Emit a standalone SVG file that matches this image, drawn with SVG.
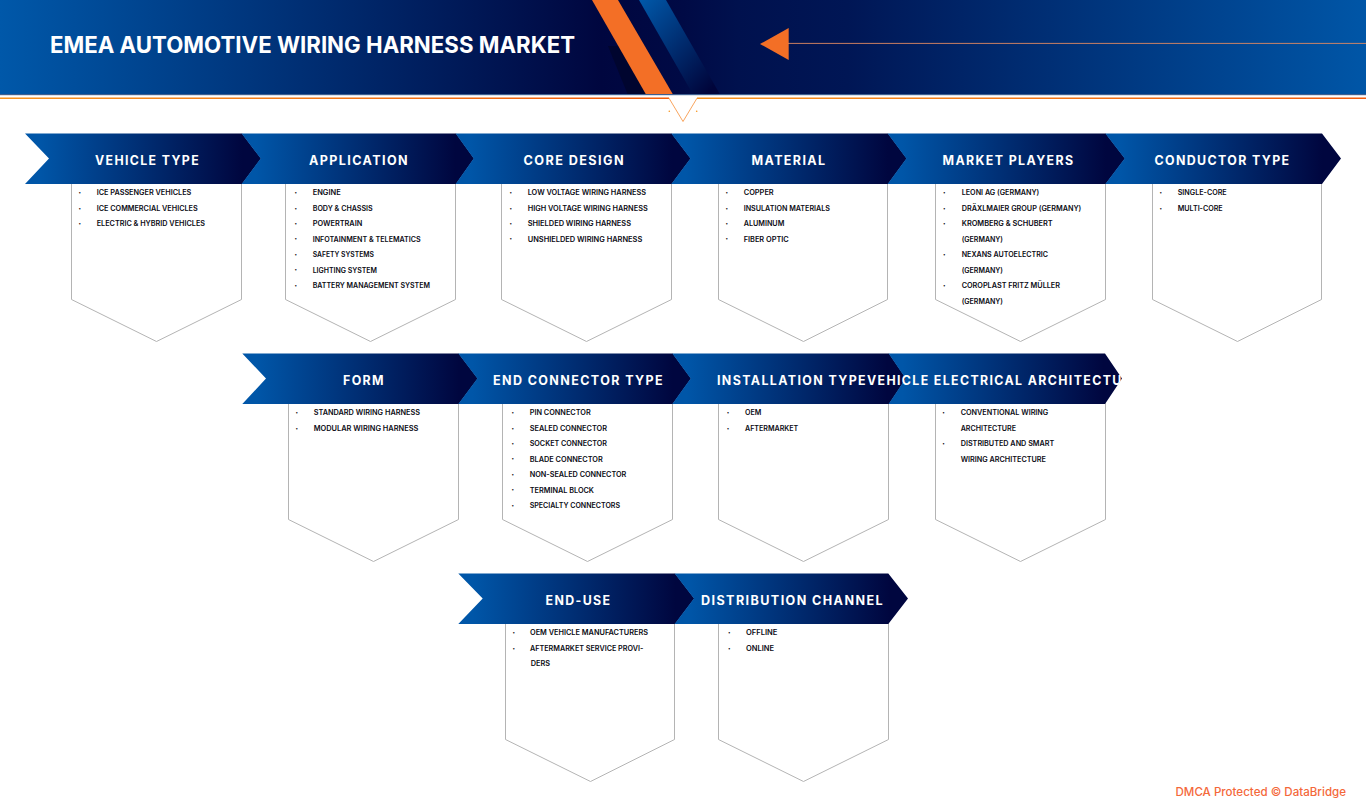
<svg xmlns="http://www.w3.org/2000/svg" width="1366" height="808" viewBox="0 0 1366 808">
<style>
text{font-family:"Inter","Liberation Sans",sans-serif}
.h{font-size:12.6px;font-weight:700;fill:#fff;letter-spacing:1.4px}
.t{font-size:7.3px;font-weight:600;fill:#0b0b14}
.b{font-size:4.5px;fill:#0b0b14}
.box{fill:#fff;stroke:#b4b4b4;stroke-width:1}
.c{fill:url(#cg)}
</style>
<defs>
<linearGradient id="cg" x1="0" y1="0" x2="1" y2="0"><stop offset="0.06" stop-color="#0056a8"/><stop offset="0.92" stop-color="#00063f"/></linearGradient>
<linearGradient id="hg" gradientUnits="userSpaceOnUse" x1="0" y1="0" x2="1366" y2="0"><stop offset="0" stop-color="#0058a9"/><stop offset="0.44" stop-color="#00063f"/><stop offset="0.5" stop-color="#000a45"/><stop offset="0.54" stop-color="#00114e"/><stop offset="0.62" stop-color="#001655"/><stop offset="1" stop-color="#0056a7"/></linearGradient>
<linearGradient id="sg" gradientUnits="userSpaceOnUse" x1="640" y1="0" x2="722" y2="78"><stop offset="0" stop-color="#0058a9"/><stop offset="1" stop-color="#00043a"/></linearGradient>
<linearGradient id="ol" gradientUnits="userSpaceOnUse" x1="0" y1="0" x2="669" y2="0"><stop offset="0" stop-color="#f7931e"/><stop offset="1" stop-color="#f15a0a"/></linearGradient>
<linearGradient id="or" gradientUnits="userSpaceOnUse" x1="697" y1="0" x2="1366" y2="0"><stop offset="0" stop-color="#f7931e"/><stop offset="1" stop-color="#f15a0a"/></linearGradient>
<clipPath id="vclip"><polygon points="850,353 1105,353 1122.5,378.5 1105,404 850,404"/></clipPath>
</defs>
<g id="header">
<rect x="0" y="0" width="1366" height="95" fill="url(#hg)"/>
<polygon points="608,46 640,46 672,95 628,95" fill="#00052f"/>
<polygon points="592,0 618,0 673,94.5 646,94.5" fill="#f36f26"/>
<polygon points="639,0 666,0 720,94.5 693,94.5" fill="url(#sg)"/>
<rect x="0" y="94" width="1366" height="1.2" fill="#3f5f8f"/>
<path d="M0 98.2H669" stroke="url(#ol)" stroke-width="1.4"/>
<path d="M697 98.2H1366" stroke="url(#or)" stroke-width="1.4"/>
<path d="M669 98.2L683 121.5L697 98.2" fill="none" stroke="#f79a4c" stroke-width="0.9"/>
<circle cx="669.3" cy="111.3" r="0.8" fill="#f7941d"/><circle cx="696.7" cy="111.3" r="0.8" fill="#f7941d"/>
<polygon points="760,44 788.7,28 788.7,60" fill="#f36f26"/>
<path d="M788 43.4H1366" stroke="#e08a62" stroke-width="0.9"/>
<text x="50" y="52.5" font-size="23" font-weight="700" fill="#fff" textLength="525" lengthAdjust="spacingAndGlyphs">EMEA AUTOMOTIVE WIRING HARNESS MARKET</text>
</g>

<g id="vehicle-type">
<polygon class="box" points="71.5,180 241.5,180 241.5,299.5 156.5,341.5 71.5,299.5"/>
<polygon class="c" points="25,133.4 49,158.5 25,184 242,184 261,158.5 242,133.4"/>
<text class="h" x="95" y="165" textLength="105" lengthAdjust="spacingAndGlyphs">VEHICLE TYPE</text>
<text class="b" x="78.5" y="194">•</text><text class="t" x="96.7" y="195.2" textLength="94.6" lengthAdjust="spacingAndGlyphs">ICE PASSENGER VEHICLES</text>
<text class="b" x="78.5" y="210">•</text><text class="t" x="96.7" y="211.2" textLength="101" lengthAdjust="spacingAndGlyphs">ICE COMMERCIAL VEHICLES</text>
<text class="b" x="78.5" y="225.2">•</text><text class="t" x="96.7" y="226.4" textLength="108.3" lengthAdjust="spacingAndGlyphs">ELECTRIC &amp; HYBRID VEHICLES</text>
</g>
<g id="application">
<polygon class="box" points="285.5,180 455.5,180 455.5,299.5 370.5,341.5 285.5,299.5"/>
<polygon class="c" points="241.6,133.4 260.6,158.5 241.6,184 456,184 474,158.5 456,133.4"/>
<text class="h" x="309" y="165" textLength="100" lengthAdjust="spacingAndGlyphs">APPLICATION</text>
<text class="b" x="294.5" y="194">•</text><text class="t" x="312.7" y="195.2" textLength="28" lengthAdjust="spacingAndGlyphs">ENGINE</text>
<text class="b" x="294.5" y="210">•</text><text class="t" x="312.7" y="211.2" textLength="60" lengthAdjust="spacingAndGlyphs">BODY &amp; CHASSIS</text>
<text class="b" x="294.5" y="225.2">•</text><text class="t" x="312.7" y="226.4" textLength="49.6" lengthAdjust="spacingAndGlyphs">POWERTRAIN</text>
<text class="b" x="294.5" y="240.4">•</text><text class="t" x="312.7" y="241.6" textLength="108" lengthAdjust="spacingAndGlyphs">INFOTAINMENT &amp; TELEMATICS</text>
<text class="b" x="294.5" y="256.2">•</text><text class="t" x="312.7" y="257.4" textLength="61.3" lengthAdjust="spacingAndGlyphs">SAFETY SYSTEMS</text>
<text class="b" x="294.5" y="271.4">•</text><text class="t" x="312.7" y="272.6" textLength="64.3" lengthAdjust="spacingAndGlyphs">LIGHTING SYSTEM</text>
<text class="b" x="294.5" y="287.2">•</text><text class="t" x="312.7" y="288.4" textLength="117.3" lengthAdjust="spacingAndGlyphs">BATTERY MANAGEMENT SYSTEM</text>
</g>
<g id="core-design">
<polygon class="box" points="501.5,180 671.5,180 671.5,299.5 586.5,341.5 501.5,299.5"/>
<polygon class="c" points="455.6,133.4 473.6,158.5 455.6,184 671.7,184 690.7,158.5 671.7,133.4"/>
<text class="h" x="523.5" y="165" textLength="101.5" lengthAdjust="spacingAndGlyphs">CORE DESIGN</text>
<text class="b" x="509.5" y="194">•</text><text class="t" x="527.7" y="195.2" textLength="118.3" lengthAdjust="spacingAndGlyphs">LOW VOLTAGE WIRING HARNESS</text>
<text class="b" x="509.5" y="210">•</text><text class="t" x="527.7" y="211.2" textLength="120" lengthAdjust="spacingAndGlyphs">HIGH VOLTAGE WIRING HARNESS</text>
<text class="b" x="509.5" y="225.2">•</text><text class="t" x="527.7" y="226.4" textLength="103.3" lengthAdjust="spacingAndGlyphs">SHIELDED WIRING HARNESS</text>
<text class="b" x="509.5" y="240.4">•</text><text class="t" x="527.7" y="241.6" textLength="114.6" lengthAdjust="spacingAndGlyphs">UNSHIELDED WIRING HARNESS</text>
</g>
<g id="material">
<polygon class="box" points="718.5,180 887.5,180 887.5,299.5 803.5,341.5 718.5,299.5"/>
<polygon class="c" points="671.3,133.4 690.3,158.5 671.3,184 888,184 906.7,158.5 888,133.4"/>
<text class="h" x="751.5" y="165" textLength="75" lengthAdjust="spacingAndGlyphs">MATERIAL</text>
<text class="b" x="725.5" y="194">•</text><text class="t" x="743.7" y="195.2" textLength="30" lengthAdjust="spacingAndGlyphs">COPPER</text>
<text class="b" x="725.5" y="210">•</text><text class="t" x="743.7" y="211.2" textLength="86.3" lengthAdjust="spacingAndGlyphs">INSULATION MATERIALS</text>
<text class="b" x="725.5" y="225.2">•</text><text class="t" x="743.7" y="226.4" textLength="40.6" lengthAdjust="spacingAndGlyphs">ALUMINUM</text>
<text class="b" x="725.5" y="240.4">•</text><text class="t" x="743.7" y="241.6" textLength="45" lengthAdjust="spacingAndGlyphs">FIBER OPTIC</text>
</g>
<g id="market-players">
<polygon class="box" points="935.5,180 1105.5,180 1105.5,299.5 1020.5,341.5 935.5,299.5"/>
<polygon class="c" points="887.6,133.4 906.3,158.5 887.6,184 1105.7,184 1125,158.5 1105.7,133.4"/>
<text class="h" x="942.5" y="165" textLength="132" lengthAdjust="spacingAndGlyphs">MARKET PLAYERS</text>
<text class="b" x="943" y="194">•</text><text class="t" x="961.7" y="195.2" textLength="77.6" lengthAdjust="spacingAndGlyphs">LEONI AG (GERMANY)</text>
<text class="b" x="943" y="210">•</text><text class="t" x="961.7" y="211.2" textLength="119.6" lengthAdjust="spacingAndGlyphs">DRÄXLMAIER GROUP (GERMANY)</text>
<text class="b" x="943" y="225.2">•</text><text class="t" x="961.7" y="226.4" textLength="91" lengthAdjust="spacingAndGlyphs">KROMBERG &amp; SCHUBERT</text>
<text class="t" x="961.7" y="241.6" textLength="41.3" lengthAdjust="spacingAndGlyphs">(GERMANY)</text>
<text class="b" x="943" y="256.2">•</text><text class="t" x="961.7" y="257.4" textLength="86.3" lengthAdjust="spacingAndGlyphs">NEXANS AUTOELECTRIC</text>
<text class="t" x="961.7" y="272.6" textLength="41.3" lengthAdjust="spacingAndGlyphs">(GERMANY)</text>
<text class="b" x="943" y="287.2">•</text><text class="t" x="961.7" y="288.4" textLength="98.3" lengthAdjust="spacingAndGlyphs">COROPLAST FRITZ MÜLLER</text>
<text class="t" x="961.7" y="304" textLength="41.3" lengthAdjust="spacingAndGlyphs">(GERMANY)</text>
</g>
<g id="conductor-type">
<polygon class="box" points="1152.5,180 1321.5,180 1321.5,299.5 1237.5,341.5 1152.5,299.5"/>
<polygon class="c" points="1105.3,133.4 1124.6,158.5 1105.3,184 1322,184 1341,158.5 1322,133.4"/>
<text class="h" x="1154.5" y="165" textLength="136" lengthAdjust="spacingAndGlyphs">CONDUCTOR TYPE</text>
<text class="b" x="1159.5" y="194">•</text><text class="t" x="1177.7" y="195.2" textLength="49" lengthAdjust="spacingAndGlyphs">SINGLE-CORE</text>
<text class="b" x="1159.5" y="210">•</text><text class="t" x="1177.7" y="211.2" textLength="45" lengthAdjust="spacingAndGlyphs">MULTI-CORE</text>
</g>

<g id="form">
<polygon class="box" points="288.5,400 458.5,400 458.5,519.5 373.5,561.5 288.5,519.5"/>
<polygon class="c" points="242.3,353.4 266,378.5 242.3,404 458.7,404 477.7,378.5 458.7,353.4"/>
<text class="h" x="343" y="385" textLength="42" lengthAdjust="spacingAndGlyphs">FORM</text>
<text class="b" x="295.5" y="414">•</text><text class="t" x="313.7" y="415.2" textLength="106.3" lengthAdjust="spacingAndGlyphs">STANDARD WIRING HARNESS</text>
<text class="b" x="295.5" y="430">•</text><text class="t" x="313.7" y="431.2" textLength="104.6" lengthAdjust="spacingAndGlyphs">MODULAR WIRING HARNESS</text>
</g>
<g id="end-connector-type">
<polygon class="box" points="502.5,400 672.5,400 672.5,519.5 587.5,561.5 502.5,519.5"/>
<polygon class="c" points="458.3,353.4 477.3,378.5 458.3,404 672.7,404 691,378.5 672.7,353.4"/>
<text class="h" x="493" y="385" textLength="171" lengthAdjust="spacingAndGlyphs">END CONNECTOR TYPE</text>
<text class="b" x="511.5" y="414">•</text><text class="t" x="529.7" y="415.2" textLength="61" lengthAdjust="spacingAndGlyphs">PIN CONNECTOR</text>
<text class="b" x="511.5" y="430">•</text><text class="t" x="529.7" y="431.2" textLength="77.3" lengthAdjust="spacingAndGlyphs">SEALED CONNECTOR</text>
<text class="b" x="511.5" y="445.2">•</text><text class="t" x="529.7" y="446.4" textLength="77.3" lengthAdjust="spacingAndGlyphs">SOCKET CONNECTOR</text>
<text class="b" x="511.5" y="460.4">•</text><text class="t" x="529.7" y="461.6" textLength="73" lengthAdjust="spacingAndGlyphs">BLADE CONNECTOR</text>
<text class="b" x="511.5" y="476.2">•</text><text class="t" x="529.7" y="477.4" textLength="96.6" lengthAdjust="spacingAndGlyphs">NON-SEALED CONNECTOR</text>
<text class="b" x="511.5" y="491.4">•</text><text class="t" x="529.7" y="492.6" textLength="64.3" lengthAdjust="spacingAndGlyphs">TERMINAL BLOCK</text>
<text class="b" x="511.5" y="507.2">•</text><text class="t" x="529.7" y="508.4" textLength="90.3" lengthAdjust="spacingAndGlyphs">SPECIALTY CONNECTORS</text>
</g>
<g id="installation-type">
<polygon class="box" points="718.5,400 888.5,400 888.5,519.5 803.5,561.5 718.5,519.5"/>
<polygon class="c" points="672.3,353.4 690.6,378.5 672.3,404 889,404 906,378.5 889,353.4"/>
<text class="h" x="717" y="385" textLength="150" lengthAdjust="spacingAndGlyphs">INSTALLATION TYPE</text>
<text class="b" x="726.7" y="414">•</text><text class="t" x="745" y="415.2" textLength="16.3" lengthAdjust="spacingAndGlyphs">OEM</text>
<text class="b" x="726.7" y="430">•</text><text class="t" x="745" y="431.2" textLength="53.3" lengthAdjust="spacingAndGlyphs">AFTERMARKET</text>
</g>
<g id="vehicle-electrical-architecture">
<polygon class="box" points="935.5,400 1105.5,400 1105.5,519.5 1020.5,561.5 935.5,519.5"/>
<polygon class="c" points="888.6,353.4 905.6,378.5 888.6,404 1105,404 1122,378.5 1105,353.4"/>
<g clip-path="url(#vclip)"><text class="h" x="867" y="385" textLength="274" lengthAdjust="spacingAndGlyphs">VEHICLE ELECTRICAL ARCHITECTURE</text></g>
<text class="b" x="942.3" y="414">•</text><text class="t" x="960.7" y="415.2" textLength="87.6" lengthAdjust="spacingAndGlyphs">CONVENTIONAL WIRING</text>
<text class="t" x="960.7" y="431.2" textLength="55.3" lengthAdjust="spacingAndGlyphs">ARCHITECTURE</text>
<text class="b" x="942.3" y="445.2">•</text><text class="t" x="960.7" y="446.4" textLength="93.6" lengthAdjust="spacingAndGlyphs">DISTRIBUTED AND SMART</text>
<text class="t" x="960.7" y="461.6" textLength="85.3" lengthAdjust="spacingAndGlyphs">WIRING ARCHITECTURE</text>
</g>

<g id="end-use">
<polygon class="box" points="505.5,620 674.5,620 674.5,739.5 590.5,781.5 505.5,739.5"/>
<polygon class="c" points="458.3,573.4 482.7,598.5 458.3,624 675,624 694.3,598.5 675,573.4"/>
<text class="h" x="545.5" y="605" textLength="66" lengthAdjust="spacingAndGlyphs">END-USE</text>
<text class="b" x="512.5" y="634">•</text><text class="t" x="530" y="635.2" textLength="118" lengthAdjust="spacingAndGlyphs">OEM VEHICLE MANUFACTURERS</text>
<text class="b" x="512.5" y="650">•</text><text class="t" x="530" y="651.2" textLength="113.3" lengthAdjust="spacingAndGlyphs">AFTERMARKET SERVICE PROVI-</text>
<text class="t" x="530.7" y="666.4" textLength="19.3" lengthAdjust="spacingAndGlyphs">DERS</text>
</g>
<g id="distribution-channel">
<polygon class="box" points="718.5,620 888.5,620 888.5,739.5 803.5,781.5 718.5,739.5"/>
<polygon class="c" points="674.6,573.4 693.9,598.5 674.6,624 888.3,624 908,598.5 888.3,573.4"/>
<text class="h" x="701" y="605" textLength="183" lengthAdjust="spacingAndGlyphs">DISTRIBUTION CHANNEL</text>
<text class="b" x="728" y="634">•</text><text class="t" x="746" y="635.2" textLength="31.3" lengthAdjust="spacingAndGlyphs">OFFLINE</text>
<text class="b" x="728" y="650">•</text><text class="t" x="746" y="651.2" textLength="28" lengthAdjust="spacingAndGlyphs">ONLINE</text>
</g>
<text id="footer" x="1175.5" y="796" font-size="11.5" font-weight="500" fill="#f4683a" textLength="170.5" lengthAdjust="spacingAndGlyphs">DMCA Protected © DataBridge</text>
</svg>
